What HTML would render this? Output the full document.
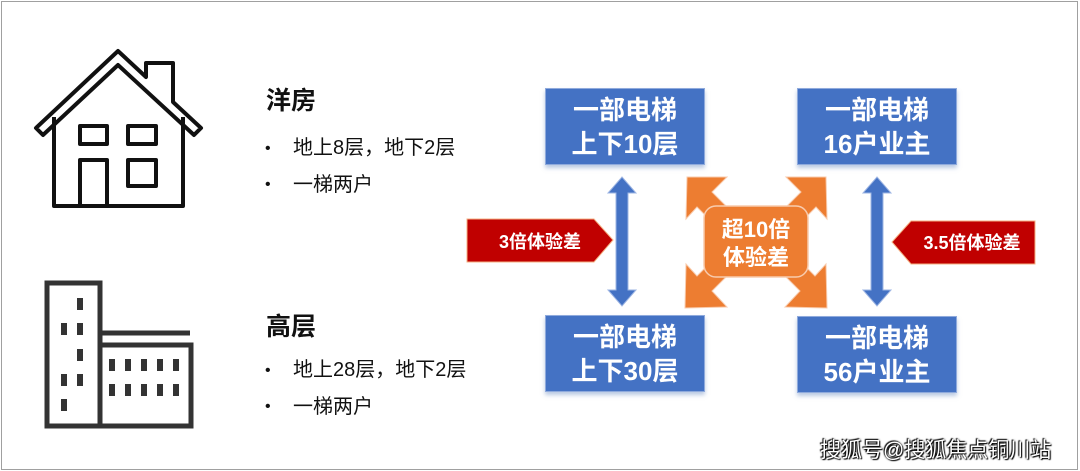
<!DOCTYPE html>
<html><head><meta charset="utf-8"><style>
body{margin:0;width:1080px;height:471px;overflow:hidden;background:#fff;font-family:"Liberation Sans","Noto Sans CJK SC",sans-serif;}
.frame{position:absolute;left:1px;top:1px;width:1075px;height:467px;border:1px solid #a0a0a0;}
.t{position:absolute;color:#111;white-space:nowrap;line-height:1;}
.h{font-size:25px;font-weight:bold;}
.b{font-size:20px;}
.dot{position:absolute;color:#111;font-size:16px;line-height:1;}
.box{position:absolute;width:160px;height:77px;background:#4472c4;color:#fff;font-weight:bold;font-size:26px;line-height:34px;text-align:center;display:flex;flex-direction:column;justify-content:center;box-shadow:0 3px 4px rgba(120,150,200,.5);border:1px solid #8faadc;box-sizing:border-box;}
.wm{position:absolute;left:820px;top:434px;font-size:21px;color:#fff;text-shadow:0 0 2px #000,1px 1px 1px #000,-1px -1px 1px #000;}
</style></head><body>
<div class="frame"></div>
<svg width="1080" height="471" style="position:absolute;left:0;top:0">
<g fill="none" stroke="#111" stroke-width="4" stroke-linejoin="round">
<path d="M36 128 L118 51 L146 77 L146 63 L173 63 L173 102 L201 128 L194 135 L118 65 L43 135 Z"/>
<path d="M54 117 L54 206 L183 206 L183 117"/>
<rect x="80" y="126" width="27" height="18"/>
<rect x="128" y="126" width="28" height="18"/>
<rect x="80" y="160" width="27" height="46"/>
<rect x="128" y="160" width="28" height="26"/>
</g>
<g fill="none" stroke="#333" stroke-width="5">
<rect x="47" y="283" width="53" height="143"/>
<rect x="100" y="345" width="91" height="81"/>
<line x1="100" y1="333" x2="190" y2="333"/>
</g>
<g fill="#333">
<rect x="77" y="298" width="6" height="12"/>
<rect x="61" y="323" width="6" height="12"/><rect x="77" y="323" width="6" height="12"/>
<rect x="77" y="349" width="6" height="12"/>
<rect x="61" y="374" width="6" height="12"/><rect x="77" y="374" width="6" height="12"/>
<rect x="61" y="399" width="6" height="12"/>
<rect x="109" y="359" width="6" height="12"/><rect x="125" y="359" width="6" height="12"/><rect x="141" y="359" width="6" height="12"/><rect x="157" y="359" width="6" height="12"/><rect x="173" y="359" width="6" height="12"/>
<rect x="109" y="384" width="6" height="12"/><rect x="125" y="384" width="6" height="12"/><rect x="141" y="384" width="6" height="12"/><rect x="157" y="384" width="6" height="12"/><rect x="173" y="384" width="6" height="12"/>
</g>
<g fill="#4472c4" stroke="#9db5e3" stroke-width="1">
<path d="M622 177 L636 193 L628 193 L628 290 L636 290 L622 306 L608 290 L616 290 L616 193 L608 193 Z"/>
<path d="M877 177 L891 193 L883 193 L883 290 L891 290 L877 306 L863 290 L871 290 L871 193 L863 193 Z"/>
</g>
<path d="M467 219 L594 219 L613 240 L594 262 L467 262 Z" fill="#c00000" stroke="#f4b183" stroke-width="1"/>
<path d="M1035 221 L911 221 L892 242 L911 264 L1035 264 Z" fill="#c00000" stroke="#f4b183" stroke-width="1"/>
<g fill="#ed7d31" stroke="#f8cbad" stroke-width="1">
<path d="M687 177 L727 177 L712 192 L727 207 L712 222 L697 207 L686 219 Z"/>
<path d="M826 177 L786 177 L801 192 L786 207 L801 222 L816 207 L827 219 Z"/>
<path d="M686 264 L697 276 L712 261 L727 276 L712 291 L727 307 L685 308 Z"/>
<path d="M826 264 L815 276 L800 261 L785 276 L800 291 L785 307 L827 308 Z"/>
</g>
<rect x="704" y="206" width="104" height="71" rx="12" fill="#ed7d31" stroke="#f8cbad" stroke-width="1.5"/>
<g font-family="Liberation Sans,Noto Sans CJK SC,sans-serif" font-weight="bold" fill="#fff">
<text x="540" y="248" font-size="18" text-anchor="middle">3倍体验差</text>
<text x="972" y="249" font-size="18" text-anchor="middle">3.5倍体验差</text>
<text x="756" y="237" font-size="22" text-anchor="middle">超10倍</text>
<text x="756" y="265" font-size="22" text-anchor="middle">体验差</text>
</g>
</svg>
<div class="t h" style="left:266px;top:89px">洋房</div>
<div class="dot" style="left:265px;top:141px">•</div>
<div class="t b" style="left:293px;top:138px">地上8层，地下2层</div>
<div class="dot" style="left:265px;top:177px">•</div>
<div class="t b" style="left:293px;top:175px">一梯两户</div>
<div class="t h" style="left:266px;top:315px">高层</div>
<div class="dot" style="left:265px;top:363px">•</div>
<div class="t b" style="left:293px;top:360px">地上28层，地下2层</div>
<div class="dot" style="left:265px;top:399px">•</div>
<div class="t b" style="left:293px;top:397px">一梯两户</div>
<div class="box" style="left:545px;top:88px"><div>一部电梯</div><div>上下10层</div></div>
<div class="box" style="left:797px;top:88px"><div>一部电梯</div><div>16户业主</div></div>
<div class="box" style="left:545px;top:315px"><div>一部电梯</div><div>上下30层</div></div>
<div class="box" style="left:797px;top:316px"><div>一部电梯</div><div>56户业主</div></div>
<div class="wm">搜狐号@搜狐焦点铜川站</div>
</body></html>
